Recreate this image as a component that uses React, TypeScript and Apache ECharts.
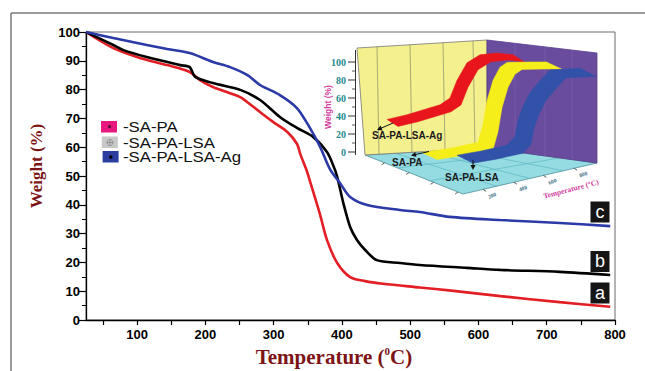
import React, { useEffect, useRef } from "react";
import * as echarts from "echarts";

// ---------- main chart data ----------
const xTickLabels = [100, 200, 300, 400, 500, 600, 700, 800];
const xTickMarks = [50, 100, 150, 200, 250, 300, 350, 400, 450, 500, 550, 600, 650, 700, 750, 800];

const saPaTemp = [25, 65, 104, 144, 177, 192, 211, 251, 261, 280, 299, 320, 334, 339, 349, 353, 368, 378, 393, 412, 434, 460, 514, 560, 632, 719, 793];
const saPaWeight = [100, 94.4, 91.0, 88.5, 86.1, 83.3, 80.9, 77.4, 75.7, 72.2, 68.8, 65.3, 61.2, 57.6, 51.4, 48.3, 36.5, 27.8, 19.8, 14.9, 13.5, 12.6, 11.3, 10.2, 8.3, 6.2, 4.6];

const saPaLsaTemp = [25, 65, 79, 114, 163, 177, 185, 211, 251, 280, 309, 334, 358, 378, 387, 393, 402, 412, 422, 434, 451, 485, 514, 583, 632, 719, 793];
const saPaLsaWeight = [100, 95.5, 93.8, 91.3, 88.5, 87.8, 84.4, 82.3, 79.9, 76.4, 70.5, 66.7, 63.5, 58.3, 53.8, 49.7, 40.6, 32.3, 27.8, 24.3, 20.8, 19.8, 19.1, 18.1, 17.4, 16.7, 15.6];

const saPaLsaAgTemp = [25, 65, 114, 144, 177, 211, 236, 261, 280, 309, 334, 353, 368, 383, 397, 412, 437, 485, 514, 558, 632, 719, 793];
const saPaLsaAgWeight = [100, 97.9, 95.5, 94.1, 92.7, 89.6, 87.8, 85.1, 81.6, 78.1, 73.6, 66.7, 60.1, 52.1, 47.6, 42.7, 39.9, 38.2, 37.5, 35.8, 34.7, 33.7, 32.6];

const legendNames = ["-SA-PA", "-SA-PA-LSA", "-SA-PA-LSA-Ag"];
const curveLetters = ["a", "b", "c"];

// ---------- inset (3D picture) data ----------
const insetWeightTicks = [0, 20, 40, 60, 80, 100];
const insetTempTicks = ["200", "400", "600", "800"];
const insetRibbonNames = ["SA-PA-LSA-Ag", "SA-PA", "SA-PA-LSA"];

const insetRedTemp = [0, 127, 337, 400, 444, 508, 590, 698, 800];
const insetRedWeight = [34, 38, 47, 54, 73, 92, 100, 101, 98];
const insetYellowTemp = [0, 178, 356, 387, 413, 451, 495, 540, 686, 790];
const insetYellowWeight = [1, 4, 9, 28, 55, 77, 91, 96, 95, 94];
const insetBlueTemp = [0, 146, 317, 368, 387, 419, 463, 527, 590, 700, 780];
const insetBlueWeight = [2, 5, 10, 19, 37, 52, 67, 80, 91, 91, 91];

const zip = (a: number[], b: number[]) => a.map((v, i) => [v, b[i]]);

// simple oblique projection of the inset
const insetPoint = (T: number, W: number, k: number) => [
  387 + 35 * k + T * 0.1575,
  150 + 3.5 * k - W * 0.9 - T * 0.00875,
];

function arrow(x1: number, y1: number, x2: number, y2: number, color = "#111") {
  const dx = x2 - x1, dy = y2 - y1;
  const len = Math.hypot(dx, dy);
  const ux = dx / len, uy = dy / len;
  const nx = -uy, ny = ux;
  const hl = 5, hw = 2.6;
  return [
    { type: "line", shape: { x1, y1, x2: x2 - ux * 2, y2: y2 - uy * 2 }, style: { stroke: color, lineWidth: 1 } },
    {
      type: "polygon",
      shape: {
        points: [
          [x2, y2],
          [x2 - ux * hl + nx * hw, y2 - uy * hl + ny * hw],
          [x2 - ux * hl - nx * hw, y2 - uy * hl - ny * hw],
        ],
      },
      style: { fill: color },
    },
  ];
}

function buildGraphics() {
  const g: any[] = [];
  // outer border (top + left)
  g.push({ type: "line", shape: { x1: 11, y1: 13, x2: 645, y2: 13 }, style: { stroke: "#7a7a7a", lineWidth: 1.5 } });
  g.push({ type: "line", shape: { x1: 11, y1: 13, x2: 11, y2: 371 }, style: { stroke: "#7a7a7a", lineWidth: 1.5 } });

  // axis titles
  g.push({
    type: "text", x: 36, y: 166, rotation: Math.PI / 2,
    style: { text: "Weight (%)", font: 'bold 17px "Liberation Serif"', fill: "#7d1416", align: "center", verticalAlign: "middle" },
  });
  g.push({
    type: "text", x: 334, y: 357,
    style: {
      text: "{a|Temperature (}{s|0}{a|C)}",
      align: "center", verticalAlign: "middle",
      rich: {
        a: { fontFamily: "Liberation Serif", fontWeight: "bold", fontSize: 21, fill: "#7d1416", lineHeight: 24 },
        s: { fontFamily: "Liberation Serif", fontWeight: "bold", fontSize: 11, fill: "#7d1416", lineHeight: 24, verticalAlign: "top", padding: [0, 0, 8, 0] },
      },
    },
  });

  // legend
  const legendColors = ["#e8177f", "#c8c8c8", "#2b3ea0"];
  const legendY = [127, 142.5, 157];
  legendNames.forEach((name, i) => {
    const y = legendY[i];
    g.push({ type: "rect", shape: { x: 101 + i * 0.8, y: y - 6, width: 16, height: 11.5 }, style: { fill: legendColors[i] } });
    if (i === 0) g.push({ type: "circle", shape: { cx: 109.5, cy: y - 0.3, r: 1.6 }, style: { fill: "#5a1030" } });
    if (i === 1) {
      g.push({ type: "circle", shape: { cx: 110, cy: y, r: 3 }, style: { fill: "none", stroke: "#888", lineWidth: 0.8 } });
      g.push({ type: "line", shape: { x1: 107, y1: y, x2: 113, y2: y }, style: { stroke: "#888", lineWidth: 0.8 } });
      g.push({ type: "line", shape: { x1: 110, y1: y - 3, x2: 110, y2: y + 3 }, style: { stroke: "#888", lineWidth: 0.8 } });
    }
    if (i === 2) g.push({ type: "circle", shape: { cx: 110.8, cy: y, r: 1.8 }, style: { fill: "#000" } });
    g.push({
      type: "text", x: 123, y, scaleX: 1.12,
      style: { text: name, font: '15px "Liberation Sans"', lineHeight: 13, fill: "#111", verticalAlign: "middle" },
    });
  });

  // curve letter boxes
  const boxY = [282.5, 251, 201.5];
  curveLetters.forEach((ch, i) => {
    g.push({ type: "rect", shape: { x: 590.5, y: boxY[i], width: 19, height: 21 }, style: { fill: "#151515" } });
    g.push({ type: "text", x: 600, y: boxY[i] + 10, style: { text: ch, font: '18px "Liberation Sans"', fill: "#fff", align: "center", verticalAlign: "middle" } });
  });

  // ---------- inset ----------
  g.push({ type: "polygon", shape: { points: [[365, 155], [487, 148], [597, 163], [463, 194]] }, style: { fill: "#94dce2", stroke: "#4b8f98", lineWidth: 0.8 } });
  [0.25, 0.5, 0.75].forEach((t) => {
    g.push({ type: "line", shape: { x1: 365 + 122 * t, y1: 155 - 7 * t, x2: 463 + 134 * t, y2: 194 - 31 * t }, style: { stroke: "#5fb6c0", lineWidth: 0.7 } });
  });
  [0.33, 0.66].forEach((s) => {
    g.push({ type: "line", shape: { x1: 365 + 98 * s, y1: 155 + 39 * s, x2: 487 + 110 * s, y2: 148 + 15 * s }, style: { stroke: "#5fb6c0", lineWidth: 0.7 } });
  });
  g.push({ type: "polygon", shape: { points: [[357, 48], [487, 40], [487, 148], [365, 155]] }, style: { fill: "#f4f08e", stroke: "#777", lineWidth: 0.8 } });
  [377, 410, 443, 473].forEach((x) => {
    const yt = 48 - ((x - 357) * 8) / 130;
    const yb = 155 - ((x - 365) * 7) / 122;
    g.push({ type: "line", shape: { x1: x, y1: yt, x2: x + 2, y2: yb }, style: { stroke: "#8a8a6a", lineWidth: 0.7 } });
  });
  g.push({ type: "polygon", shape: { points: [[487, 40], [597, 53], [597, 163], [487, 148]] }, style: { fill: "#6a4c9e", stroke: "#5a3c8e", lineWidth: 0.8 } });
  [515, 545, 572].forEach((x) => {
    const yt = 40 + ((x - 487) * 13) / 110;
    const yb = 148 + ((x - 487) * 15) / 110;
    g.push({ type: "line", shape: { x1: x, y1: yt, x2: x, y2: yb }, style: { stroke: "#7d62b0", lineWidth: 0.6 } });
  });

  const ribbons = [
    { t: insetRedTemp, w: insetRedWeight, k: 0, c: "#e8161c", off: [11, 7] },
    { t: insetYellowTemp, w: insetYellowWeight, k: 1, c: "#f6ee1a", off: [15, 7] },
    { t: insetBlueTemp, w: insetBlueWeight, k: 2, c: "#3152a8", off: [16, 8] },
  ];
  ribbons.forEach((r) => {
    const back = r.t.map((t, i) => insetPoint(t, r.w[i], r.k));
    const front = back.map(([x, y]) => [x + r.off[0], y + r.off[1]]).reverse();
    g.push({ type: "polygon", shape: { points: back.concat(front) }, style: { fill: r.c, stroke: r.c, lineWidth: 0.5 } });
  });

  g.push({ type: "line", shape: { x1: 355.5, y1: 50, x2: 355.5, y2: 155 }, style: { stroke: "#333", lineWidth: 1 } });
  insetWeightTicks.forEach((v) => {
    const y = 152 - v * 0.9;
    g.push({ type: "line", shape: { x1: 348, y1: y, x2: 355.5, y2: y }, style: { stroke: "#333", lineWidth: 1 } });
    g.push({ type: "text", x: 346, y, style: { text: String(v), font: 'bold 10px "Liberation Serif"', fill: "#1f8a8e", align: "right", verticalAlign: "middle" } });
  });
  [10, 30, 50, 70, 90].forEach((v) => {
    const y = 152 - v * 0.9;
    g.push({ type: "line", shape: { x1: 352, y1: y, x2: 355.5, y2: y }, style: { stroke: "#333", lineWidth: 0.8 } });
  });
  g.push({
    type: "text", x: 328, y: 107, rotation: Math.PI / 2,
    style: { text: "Weight (%)", font: 'bold 8.5px "Liberation Sans"', fill: "#d23c9e", align: "center", verticalAlign: "middle" },
  });
  [0.15, 0.38, 0.6, 0.83].forEach((t, i) => {
    const x = 463 + 134 * t, y = 194 - 31 * t;
    g.push({ type: "line", shape: { x1: x, y1: y, x2: x + 3, y2: y + 2 }, style: { stroke: "#333", lineWidth: 0.8 } });
    g.push({
      type: "text", x: x + 9, y: y + 6, rotation: 0.35,
      style: { text: insetTempTicks[i], font: 'bold 5.5px "Liberation Serif"', fill: "#3c6f86", align: "center", verticalAlign: "middle" },
    });
  });
  [0.2, 0.45, 0.7, 0.95].forEach((s) => {
    const x = 365 + 98 * s, y = 155 + 39 * s;
    g.push({ type: "line", shape: { x1: x, y1: y, x2: x - 3, y2: y + 2 }, style: { stroke: "#333", lineWidth: 0.8 } });
  });
  g.push({
    type: "text", x: 571, y: 189, rotation: 0.26,
    style: { text: "Temperature (°C)", font: 'bold 7.5px "Liberation Serif"', fill: "#d23c9e", align: "center", verticalAlign: "middle" },
  });

  g.push({ type: "text", x: 372, y: 135, style: { text: insetRibbonNames[0], font: 'bold 10px "Liberation Sans"', fill: "#1a1a1a", verticalAlign: "middle" } });
  g.push({ type: "text", x: 392, y: 162.5, style: { text: insetRibbonNames[1], font: 'bold 10px "Liberation Sans"', fill: "#1a1a1a", verticalAlign: "middle" } });
  g.push({ type: "text", x: 445, y: 177, style: { text: insetRibbonNames[2], font: 'bold 10px "Liberation Sans"', fill: "#1a1a1a", verticalAlign: "middle" } });
  g.push(...arrow(393, 123, 377, 130));
  g.push(...arrow(429, 151.5, 411, 155.5));
  g.push(...arrow(473, 160, 473, 170));
  return g;
}

export default function App() {
  const ref = useRef<HTMLDivElement>(null);
  useEffect(() => {
    const chart = echarts.init(ref.current!, null, { renderer: "svg" });
    const axisFont = { color: "#000", fontWeight: "bold" as const, fontSize: 13, fontFamily: "Liberation Sans" };
    chart.setOption({
      animation: false,
      backgroundColor: "#fff",
      grid: {
        left: 86, top: 32, width: 529, height: 288,
        show: true, borderColor: "#6a6a6a", borderWidth: 1, backgroundColor: "transparent",
        containLabel: false, outerBoundsMode: "none",
      },
      xAxis: {
        type: "value", min: 25, max: 800,
        axisLine: { show: true, onZero: false, lineStyle: { color: "#000", width: 1.3 } },
        axisTick: { show: true, customValues: xTickMarks, length: 5, lineStyle: { color: "#000", width: 1.2 } },
        axisLabel: { ...axisFont, customValues: xTickLabels, margin: 8 },
        splitLine: { show: false },
      },
      yAxis: {
        type: "value", min: 0, max: 100, interval: 10,
        axisLine: { show: true, onZero: false, lineStyle: { color: "#000", width: 1.3 } },
        axisTick: { show: true, length: 7, lineStyle: { color: "#000", width: 1.2 } },
        minorTick: { show: true, splitNumber: 2, length: 4, lineStyle: { color: "#000", width: 1 } },
        axisLabel: { ...axisFont, margin: 6 },
        splitLine: { show: false },
      },
      series: [
        { type: "line", name: "SA-PA", data: zip(saPaTemp, saPaWeight), showSymbol: false, smooth: 0.3, lineStyle: { color: "#e31e24", width: 2.6 } },
        { type: "line", name: "SA-PA-LSA", data: zip(saPaLsaTemp, saPaLsaWeight), showSymbol: false, smooth: 0.3, lineStyle: { color: "#000", width: 2.6 } },
        { type: "line", name: "SA-PA-LSA-Ag", data: zip(saPaLsaAgTemp, saPaLsaAgWeight), showSymbol: false, smooth: 0.3, lineStyle: { color: "#2b3aa6", width: 2.6 } },
      ],
      graphic: buildGraphics(),
    });
    return () => chart.dispose();
  }, []);
  return <div ref={ref} style={{ position: "absolute", left: 0, top: 0, width: 645, height: 371 }} />;
}
